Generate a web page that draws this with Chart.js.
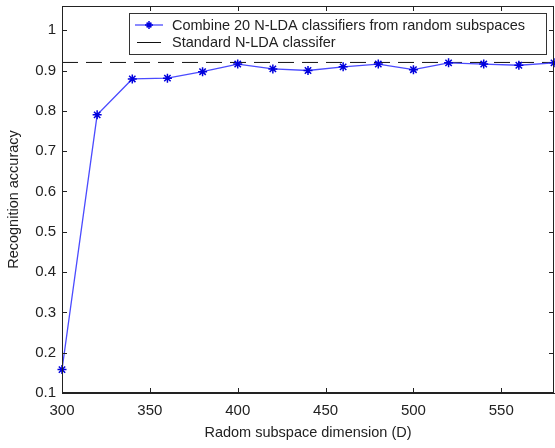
<!DOCTYPE html>
<html>
<head>
<meta charset="utf-8">
<script src="https://cdn.jsdelivr.net/npm/chart.js@4/dist/chart.umd.min.js"></script>
<style>
html,body{margin:0;padding:0;background:#fff;}
#wrap{width:555px;height:448px;position:relative;}
</style>
</head>
<body>
<div id="wrap"><canvas id="c" width="555" height="448"></canvas></div>
<script>
const dims = [300, 320, 340, 360, 380, 400, 420, 440, 460, 480, 500, 520, 540, 560, 580];
const accuracy = [0.158, 0.79, 0.879, 0.881, 0.897, 0.916, 0.904, 0.900, 0.909, 0.916, 0.902, 0.919, 0.916, 0.913, 0.919];
const standardAccuracy = 0.92;
const xTicks = [300, 350, 400, 450, 500, 550];
const yTicks = [0.1, 0.2, 0.3, 0.4, 0.5, 0.6, 0.7, 0.8, 0.9, 1];
const seriesLabels = ['Combine 20 N-LDA classifiers from random subspaces', 'Standard N-LDA classifer'];

const FONT = '"Liberation Sans", Arial, sans-serif';
const LINE_BLUE = '#4b4bff';
const MARK_BLUE = '#0000dd';

const boxPlugin = {
  id: 'box',
  afterDatasetsDraw(chart) {
    const {ctx, chartArea: a, scales} = chart;
    ctx.save();
    ctx.strokeStyle = '#222';
    ctx.lineWidth = 1;
    ctx.strokeRect(a.left + 0.5, a.top + 0.5, a.right - a.left - 1, a.bottom - a.top - 1);
    const tl = 5;
    ctx.beginPath();
    xTicks.forEach(v => {
      const x = Math.round(scales.x.getPixelForValue(v)) + 0.5;
      ctx.moveTo(x, a.bottom); ctx.lineTo(x, a.bottom - tl);
      ctx.moveTo(x, a.top); ctx.lineTo(x, a.top + tl);
    });
    yTicks.forEach(v => {
      const y = Math.round(scales.y.getPixelForValue(v)) + 0.5;
      ctx.moveTo(a.left, y); ctx.lineTo(a.left + tl, y);
      ctx.moveTo(a.right, y); ctx.lineTo(a.right - tl, y);
    });
    ctx.stroke();

    // legend
    const lx = 129.5, ly = 13.5, lw = 417, lh = 41;
    ctx.fillStyle = '#fff';
    ctx.fillRect(lx, ly, lw, lh);
    ctx.strokeStyle = '#333';
    ctx.strokeRect(lx, ly, lw, lh);
    ctx.font = '14.5px ' + FONT;
    ctx.fillStyle = '#222';
    ctx.textBaseline = 'middle';
    const rows = [25, 42];
    ctx.strokeStyle = LINE_BLUE; ctx.lineWidth = 1.3;
    ctx.beginPath(); ctx.moveTo(135, rows[0]); ctx.lineTo(163, rows[0]); ctx.stroke();
    drawStar(ctx, 149, rows[0], 4);
    ctx.fillText(seriesLabels[0], 172, rows[0] + 1);
    ctx.strokeStyle = '#111'; ctx.lineWidth = 1;
    ctx.beginPath(); ctx.moveTo(137, rows[1] + 0.5); ctx.lineTo(161, rows[1] + 0.5); ctx.stroke();
    ctx.fillStyle = '#222';
    ctx.fillText(seriesLabels[1], 172, rows[1] + 1);
    ctx.restore();
  }
};
function drawStar(ctx, x, y, r) {
  ctx.save();
  ctx.strokeStyle = MARK_BLUE; ctx.lineWidth = 1.5;
  ctx.beginPath();
  ctx.moveTo(x - r, y); ctx.lineTo(x + r, y);
  ctx.moveTo(x, y - r); ctx.lineTo(x, y + r);
  const d = r * 0.6;
  ctx.moveTo(x - d, y - d); ctx.lineTo(x + d, y + d);
  ctx.moveTo(x - d, y + d); ctx.lineTo(x + d, y - d);
  ctx.stroke();
  ctx.restore();
}

new Chart(document.getElementById('c'), {
  type: 'line',
  data: {
    datasets: [
      {
        label: seriesLabels[1],
        data: [{x: dims[0], y: standardAccuracy}, {x: dims[dims.length - 1], y: standardAccuracy}],
        borderColor: '#111',
        borderWidth: 1,
        borderDash: [16, 8],
        pointRadius: 0,
        fill: false,
        order: 2
      },
      {
        label: seriesLabels[0],
        data: dims.map((d, i) => ({x: d, y: accuracy[i]})),
        borderColor: LINE_BLUE,
        borderWidth: 1.3,
        pointStyle: 'star',
        pointRadius: 4.5,
        pointBorderColor: MARK_BLUE,
        pointBackgroundColor: MARK_BLUE,
        pointBorderWidth: 1.5,
        tension: 0,
        fill: false,
        order: 1
      }
    ]
  },
  options: {
    responsive: false,
    animation: false,
    clip: false,
    layout: {autoPadding: false, padding: {left: 0, right: 1, top: 6, bottom: 0}},
    plugins: {legend: {display: false}, tooltip: {enabled: false}},
    scales: {
      x: {
        type: 'linear',
        min: 300, max: 580,
        afterBuildTicks: s => { s.ticks = xTicks.map(v => ({value: v})); },
        afterFit: s => { s.height = 55; s.paddingLeft = 0; s.paddingRight = 0; },
        grid: {display: false, drawTicks: false},
        border: {display: true, color: '#222'},
        ticks: {font: {size: 15, family: FONT}, color: '#222', padding: 9, maxRotation: 0},
        title: {display: true, text: 'Radom subspace dimension (D)', font: {size: 14.5, family: FONT}, color: '#222', padding: {top: 3, bottom: 6}}
      },
      y: {
        type: 'linear',
        min: 0.1, max: 1.06,
        afterBuildTicks: s => { s.ticks = yTicks.map(v => ({value: v})); },
        afterFit: s => { s.width = 62; s.paddingTop = 0; s.paddingBottom = 0; },
        grid: {display: false, drawTicks: false},
        border: {display: true, color: '#222'},
        ticks: {font: {size: 15, family: FONT}, color: '#222', padding: 6, callback: v => String(v)},
        title: {display: true, text: 'Recognition accuracy', font: {size: 14.5, family: FONT}, color: '#222', padding: {bottom: 0, top: 5}}
      }
    }
  },
  plugins: [boxPlugin]
});
</script>
</body>
</html>
